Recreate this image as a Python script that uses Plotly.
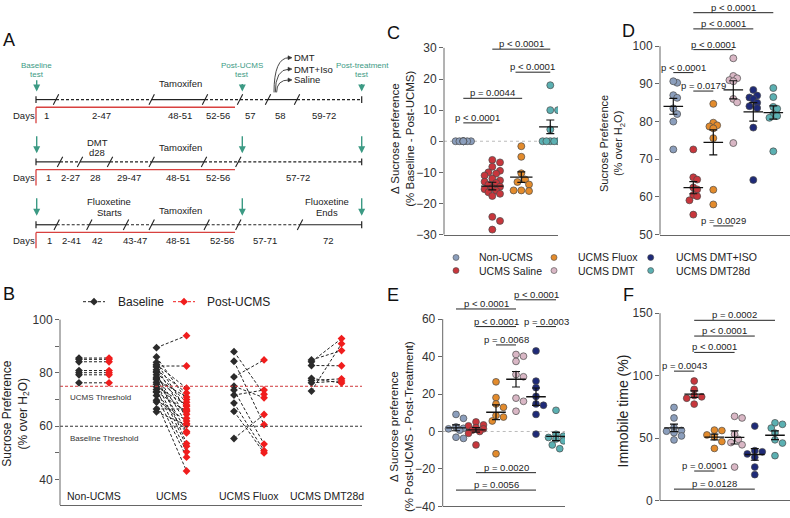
import numpy as np
import plotly.graph_objects as go

W, H = 790, 518
FONT = "Liberation Sans, Arial, sans-serif"
NARROW = "Liberation Sans, Arial, sans-serif"

# ---------------- data ----------------
group_names = ["Non-UCMS", "UCMS Saline", "UCMS Fluox", "UCMS DMT", "UCMS DMT+ISO", "UCMS DMT28d"]
group_colors = ["#8B9EBC", "#C8363C", "#E38B2C", "#D9B7C5", "#1E2A78", "#5BB0B2"]

b_categories = ["Non-UCMS", "UCMS", "UCMS Fluox", "UCMS DMT28d"]
b_baseline = [
    [85.6, 85.1, 84.2, 80.9, 80.1, 79.3, 76.3],
    [89.5, 86.0, 84.0, 83.2, 82.6, 82.2, 81.2, 80.5, 80.2, 79.3, 78.4, 77.8,
     77.5, 76.5, 75.8, 74.8, 73.8, 73.0, 72.8, 71.5, 69.8, 69.1, 66.5, 65.4],
    [88.0, 84.4, 78.5, 75.0, 73.6, 71.7, 68.7, 65.6, 55.4],
    [84.9, 84.2, 82.8, 78.0, 77.2, 76.3, 73.2],
]
b_post = [
    [85.6, 85.1, 84.2, 80.9, 80.1, 79.3, 76.3],
    [94.0, 70.0, 66.0, 74.3, 82.6, 63.0, 72.5, 53.5, 69.0, 61.0, 67.5, 58.0,
     71.0, 52.5, 64.5, 68.0, 50.4, 65.5, 57.5, 48.4, 62.0, 43.2, 66.5, 60.5],
    [72.0, 60.6, 84.9, 70.7, 53.3, 73.6, 50.8, 50.0, 64.4],
    [88.4, 92.9, 82.7, 76.2, 77.8, 77.0, 91.0],
]
b_thresholds = [75, 60]
b_threshold_colors = ["#D0393B", "#333333"]
b_threshold_labels = ["UCMS Threshold", "Baseline Threshold"]

c_groups = [0, 1, 2, 5]
c_values = [
    [0, 0, 0, 0, 0, 0, 0, 0],
    [-6.0, -6.8, -8.2, -9.5, -10.0, -10.4, -11.0, -12.0, -12.6, -13.0, -13.4,
     -14.0, -14.6, -15.0, -15.4, -15.9, -16.4, -16.9, -17.6, -24.3, -25.6, -28.4],
    [-1.6, -5.0, -10.3, -12.3, -13.1, -13.9, -15.8, -15.8, -16.0],
    [18.0, 10.0, 10.0, 3.8, 0, 0, 0, 0, 0],
]
c_brackets = [(0, 1, 5.9, "p < 0.0001"), (0, 2.03, 13.8, "p = 0.0044"),
              (1, 3, 29.6, "p < 0.0001"), (1.8, 3, 22.2, "p < 0.0001")]

d_values = [
    [90.3, 90.7, 87.0, 86.3, 83.5, 82.0, 80.0, 72.6],
    [72.6, 65.2, 64.6, 62.5, 62.0, 60.5, 60.2, 59.1, 55.3],
    [84.7, 79.7, 79.0, 78.7, 78.2, 75.6, 61.9, 58.0],
    [96.8, 92.1, 91.5, 91.0, 90.7, 86.0, 85.1, 74.3],
    [88.4, 86.9, 86.4, 86.0, 85.0, 84.1, 83.6, 78.4, 64.5],
    [88.9, 86.5, 83.9, 83.4, 81.9, 81.5, 81.0, 72.1],
]
d_brackets = [(0, 1, 93.0, "p < 0.0001"), (1, 2, 88.1, "p = 0.0179"),
              (1, 3, 99.1, "p < 0.0001"), (1, 4, 104.6, "p < 0.0001"),
              (1, 5, 108.9, "p < 0.0001"), (2, 3, 52.3, "p = 0.0029")]

e_values = [
    [9.1, 7.0, 2.4, 1.7, 1.4, 0.7, -3.1, -3.7],
    [5.1, 3.5, 3.0, 2.1, 1.4, 0.7, 0.0, -1.0, -7.2],
    [26.5, 18.1, 14.7, 12.9, 8.5, 7.7, 5.6, -11.9],
    [41.1, 40.2, 37.4, 30.4, 29.2, 17.8, 16.1, 10.8],
    [43.0, 26.9, 23.4, 18.7, 14.7, 14.0, 9.1, -1.4],
    [11.3, -1.5, -2.5, -3.2, -4.0, -5.0, -7.2, -9.2],
]
e_brackets = [(0, 3, 65.4, "p < 0.0001"), (1, 3, 56.0, "p < 0.0001"),
              (2, 3, 46.2, "p = 0.0068"), (3, 5, 70.3, "p < 0.0001"),
              (4, 5, 56.0, "p = 0.0003"), (1, 4, -22.0, "p = 0.0020"),
              (0, 4, -31.3, "p = 0.0056")]

f_values = [
    [74.5, 66.1, 58.3, 56.1, 55.5, 54.3, 51.7, 48.5],
    [95.7, 89.0, 84.0, 83.0, 81.9, 77.2],
    [56.4, 56.0, 52.5, 51.0, 47.2, 41.7],
    [67.4, 66.1, 53.0, 49.0, 46.4, 44.6, 26.8],
    [59.6, 39.9, 39.0, 37.3, 34.6, 26.8, 20.7],
    [62.2, 61.0, 58.0, 54.0, 48.6, 46.0, 35.9],
]
f_brackets = [(0, 1, 103.6, "p = 0.0043"), (1, 3, 118.6, "p < 0.0001"),
              (1, 4, 131.7, "p < 0.0001"), (1, 5, 144.3, "p = 0.0002"),
              (1, 2, 23.6, "p = 0.0001"), (0, 4, 9.1, "p = 0.0128")]

# timeline (panel A) content
tl_days = [
    [("1", 46.7), ("2-47", 101.7), ("48-51", 180), ("52-56", 218.3), ("57", 250), ("58", 280), ("59-72", 324)],
    [("1", 48.3), ("2-27", 70), ("28", 95), ("29-47", 129.3), ("48-51", 178.3), ("52-56", 218.3), ("57-72", 298.3)],
    [("1", 49.3), ("2-41", 71.7), ("42", 97.3), ("43-47", 135), ("48-51", 178.3), ("52-56", 221.7), ("57-71", 265), ("72", 328)],
]
tl_breaks = [
    [36, 56, 151.7, 205, 240, 268, 297, 361.7],
    [36, 60, 80, 110, 151.7, 204, 238.3, 361.7],
    [36, 56.7, 89.3, 126, 151.7, 206.7, 238.3, 300, 361.7],
]
tl_solid = [
    [True, False, True, False, False, True, False],
    [True, False, True, False, True, False, False],
    [True, False, True, False, True, False, False, True],
]
tl_rows_y = [99.3, 162.7, 226.7]
tl_treatments = ["DMT", "DMT+Iso", "Saline"]

# ---------------- panel geometry (pixels) ----------------
P = {
    "B": dict(ax="", xd=(60, 362), yd=(318, 512), xr=(-0.439, 3.458), yr=(30.4, 101.95)),
    "C": dict(ax="2", xd=(444, 558), yd=(40, 236.7), xr=(-0.666, 3.266), yr=(-30, 32.12)),
    "D": dict(ax="3", xd=(660, 790), yd=(0, 236.7), xr=(-0.665, 5.835), yr=(50, 111.74)),
    "E": dict(ax="4", xd=(442.7, 565), yd=(290, 513.3), xr=(-0.665, 5.45), yr=(-40, 77.16)),
    "F": dict(ax="5", xd=(660, 790), yd=(300, 507.3), xr=(-0.693, 5.743), yr=(0, 163.14)),
}


def sx(p):
    return (p["xd"][1] - p["xd"][0]) / (p["xr"][1] - p["xr"][0])


def sy(p):
    return (p["yd"][1] - p["yd"][0]) / (p["yr"][1] - p["yr"][0])


def py(p, v):
    return p["yd"][1] - (v - p["yr"][0]) * sy(p)


def swarm(vals, scx, scy, d, maxw):
    vals = np.asarray(vals, float)
    order = np.argsort(-vals, kind="stable")
    step = d * 0.55
    cands = [0.0]
    k = 1
    while k * step <= maxw + 1e-9:
        cands += [k * step, -k * step]
        k += 1
    placed = []
    off = np.zeros(len(vals))
    for i in order:
        yp = vals[i] * scy
        chosen, best, bestd = None, 0.0, -1
        for c in cands:
            md = min((np.hypot(c - a, yp - b) for a, b in placed), default=1e9)
            if md >= 0.92 * d:
                chosen = c
                break
            if md > bestd:
                bestd, best = md, c
        if chosen is None:
            chosen = best
        off[i] = chosen / scx
        placed.append((chosen, yp))
    return off


fig = go.Figure()
shapes = []
annotations = []


def seg(x0, y0, x1, y1, color="#222", width=1.2, dash="solid", xref="x6", yref="y6"):
    shapes.append(dict(type="line", xref=xref, yref=yref, x0=x0, y0=y0, x1=x1, y1=y1,
                       line=dict(color=color, width=width, dash=dash), layer="above"))


def ann(x, y, text, size=10, color="#222", family=FONT, xanchor="center", yanchor="middle",
        xref="x6", yref="y6", angle=0, yshift=0):
    annotations.append(dict(x=x, y=y, xref=xref, yref=yref, text=text, showarrow=False,
                            font=dict(size=size, color=color, family=family),
                            xanchor=xanchor, yanchor=yanchor, textangle=angle, yshift=yshift))


def arrow(x, ytop, ytip, color="#3C9A84"):
    annotations.append(dict(x=x, y=ytip, xref="x6", yref="y6", ax=x, ay=ytop, axref="x6", ayref="y6",
                            text="", showarrow=True, arrowhead=2, arrowsize=1, arrowwidth=1.4,
                            arrowcolor=color))


# ---------------- panel A: timeline ----------------
GREEN = "#3C9A84"
RED = "#D8413F"
for r, yrow in enumerate(tl_rows_y):
    br = tl_breaks[r]
    for j in range(len(br) - 1):
        seg(br[j], yrow, br[j + 1], yrow, dash="solid" if tl_solid[r][j] else "3px,2px")
    for xb in br[1:-1]:
        seg(xb - 2.7, yrow + 5.3, xb + 2.7, yrow - 5.3, width=1.1)
    seg(br[0], yrow - 3.5, br[0], yrow + 3.5)
    seg(br[-1], yrow - 3.5, br[-1], yrow + 3.5)
    # red L
    seg(36, yrow + 7.8, 235, yrow + 7.8, color=RED, width=1.3)
    seg(36, yrow + 7.8, 36, yrow + 24, color=RED, width=1.3)
    ann(24, yrow + 16, "Days", size=9.5)
    for lab, xl in tl_days[r]:
        ann(xl, yrow + 16, lab, size=9.5)

# green test labels and arrows
ann(36.7, 65, "Baseline", size=8, color=GREEN)
ann(36.7, 74, "test", size=8, color=GREEN)
ann(242.3, 65, "Post-UCMS", size=8, color=GREEN)
ann(242.3, 74, "test", size=8, color=GREEN)
ann(362, 65, "Post-treatment", size=8, color=GREEN)
ann(362, 74, "test", size=8, color=GREEN)
arrow(36.7, 78, 91)
arrow(242.3, 82, 91)
arrow(361.7, 82, 91)
for yt, yb in [(135, 154), (198.3, 217.5)]:
    arrow(36.7, yt, yb)
    arrow(242.3, yt, yb)
    arrow(361.7, yt, yb)

ann(180, 83.3, "Tamoxifen", size=9.5)
ann(180, 148.3, "Tamoxifen", size=9.5)
ann(180, 211.7, "Tamoxifen", size=9.5)
ann(97.3, 143.3, "DMT", size=9.5)
ann(97.3, 153.3, "d28", size=9.5)
ann(109.3, 203.3, "Fluoxetine", size=9.5)
ann(109.3, 214.3, "Starts", size=9.5)
ann(327, 203.3, "Fluoxetine", size=9.5)
ann(327, 214.3, "Ends", size=9.5)
for k, (yt, lab) in enumerate(zip([56.7, 68.3, 79.3], tl_treatments)):
    x0 = 274 + k * 1.3
    shapes.append(dict(type="path", xref="x6", yref="y6",
                       path=f"M {x0},{92} Q {x0},{yt} {289},{yt}",
                       line=dict(color="#333", width=0.9), layer="above"))
    shapes.append(dict(type="path", xref="x6", yref="y6",
                       path=f"M {288},{yt - 2} L {292},{yt} L {288},{yt + 2} Z",
                       line=dict(color="#333", width=0.5), fillcolor="#333", layer="above"))
    ann(292, yt, lab, size=9.5, xanchor="left")

# panel letters
for lab, (xl, yl) in {"A": (8.5, 38.5), "B": (8.5, 296.7), "C": (393.3, 31.7), "D": (628.3, 29.3),
                      "E": (393.3, 298.3), "F": (628.3, 298)}.items():
    ann(xl, yl, lab, size=18, color="#111")

# ---------------- panel B ----------------
off_b = 0.194
for i in range(len(b_categories)):
    xs, ys = [], []
    for b, p in zip(b_baseline[i], b_post[i]):
        xs += [i - off_b, i + off_b, None]
        ys += [b, p, None]
    fig.add_trace(go.Scatter(x=xs, y=ys, mode="lines", line=dict(color="#222", width=1, dash="3px,2px"),
                             xaxis="x", yaxis="y", showlegend=False, hoverinfo="skip"))
for i in range(len(b_categories)):
    fig.add_trace(go.Scatter(x=[i - off_b] * len(b_baseline[i]), y=b_baseline[i], mode="markers",
                             marker=dict(symbol="diamond", size=6, color="#2B2B2B"),
                             xaxis="x", yaxis="y", showlegend=False))
    fig.add_trace(go.Scatter(x=[i + off_b] * len(b_post[i]), y=b_post[i], mode="markers",
                             marker=dict(symbol="diamond", size=6, color="#F01D1D"),
                             xaxis="x", yaxis="y", showlegend=False))
for t, c in zip(b_thresholds, b_threshold_colors):
    shapes.append(dict(type="line", xref="x domain", yref="y", x0=0, x1=1, y0=t, y1=t,
                       line=dict(color=c, width=1, dash="3px,2px"), layer="above"))
ann(100.3, 402, b_threshold_labels[0], size=8, family=NARROW, color="#333")
ann(103.7, 444, b_threshold_labels[1], size=8, family=NARROW, color="#333")
for i, lab in enumerate(b_categories):
    ann(i, 503, lab, size=10.5, xref="x", yref="y6")
# B legend
fig.add_trace(go.Scatter(x=[83, 105], y=[305, 305], mode="lines",
                         line=dict(color="#222", width=1, dash="3px,2px"),
                         xaxis="x6", yaxis="y6", showlegend=False, hoverinfo="skip"))
fig.add_trace(go.Scatter(x=[173, 195], y=[305, 305], mode="lines",
                         line=dict(color="#F01D1D", width=1, dash="3px,2px"),
                         xaxis="x6", yaxis="y6", showlegend=False, hoverinfo="skip"))
fig.add_trace(go.Scatter(x=[94, 184], y=[305, 305], mode="markers",
                         marker=dict(symbol="diamond", size=6, color=["#2B2B2B", "#F01D1D"]),
                         xaxis="x6", yaxis="y6", showlegend=False, hoverinfo="skip"))
ann(115.5, 305, "Baseline", size=12, xanchor="left")
ann(205, 305, "Post-UCMS", size=12, xanchor="left")
ann(16, 419, "Sucrose Preference<br>(% over H<sub>2</sub>O)", size=12, angle=-90)


# ---------------- scatter panels ----------------
def dot_panel(key, values, color_idx, brackets, msize=7, maxw=8.5, mean_w=14):
    p = P[key]
    a = p["ax"]
    xa, ya = "x" + a, "y" + a
    for i, vals in enumerate(values):
        col = group_colors[color_idx[i]]
        off = swarm(vals, sx(p), sy(p), msize, maxw)
        fig.add_trace(go.Scatter(x=i + off, y=vals, mode="markers",
                                 marker=dict(size=msize, color=col, line=dict(width=0.7, color="#4A4A4A")),
                                 xaxis=xa, yaxis=ya, showlegend=False))
    for i, vals in enumerate(values):
        v = np.asarray(vals, float)
        sem = v.std(ddof=1) / np.sqrt(len(v))
        if sem == 0:
            continue
        fig.add_trace(go.Scatter(x=[i], y=[v.mean()], mode="markers",
                                 marker=dict(symbol="line-ew", size=mean_w, color="#111",
                                             line=dict(width=1.3, color="#111")),
                                 error_y=dict(type="data", array=[sem], width=4, thickness=1.2, color="#111"),
                                 xaxis=xa, yaxis=ya, showlegend=False))
    for x1, x2, yv, lab in brackets:
        shapes.append(dict(type="line", xref=xa, yref=ya, x0=x1, x1=x2, y0=yv, y1=yv,
                           line=dict(color="#222", width=1), layer="above"))
        ann((x1 + x2) / 2, yv, lab, size=9.5, family=NARROW, color="#222", xref=xa, yref=ya,
            yanchor="bottom", yshift=-2)


dot_panel("C", c_values, c_groups, c_brackets, msize=7, maxw=8.5, mean_w=16)
dot_panel("D", d_values, list(range(6)), d_brackets, msize=7, maxw=7.5)
dot_panel("E", e_values, list(range(6)), e_brackets, msize=6.8, maxw=7.5)
dot_panel("F", f_values, list(range(6)), f_brackets, msize=6.8, maxw=7.5)

# zero reference lines
for key in ["C", "E"]:
    a = P[key]["ax"]
    shapes.append(dict(type="line", xref="x" + a + " domain", yref="y" + a, x0=0, x1=1, y0=0, y1=0,
                       line=dict(color="#BBBBBB", width=1, dash="dot"), layer="below"))

# y-axis lines (pixel overlay)
for key, (lo, hi) in {"B": (30.4, 100), "C": (-30, 30), "D": (50, 100), "E": (-40, 60), "F": (0, 150)}.items():
    p = P[key]
    seg(p["xd"][0], py(p, lo), p["xd"][0], py(p, hi), color="#666", width=1)

# axis titles
ann(401.7, 139.5, "Δ Sucrose preference<br>(% Baseline - Post-UCMS)", size=11.5, angle=-90)
ann(612.5, 144, "Sucrose Preference<br>(% over H<sub>2</sub>O)", size=11, angle=-90)
ann(400.8, 431.7, "Δ Sucrose preference<br>(% Post-UCMS - Post-Treatment)", size=11.5, angle=-90)
ann(623, 416.7, "Immobile time (%)", size=14, angle=-90)

# shared legend for C-F
leg_pos = [(456, 260), (456, 273.3), (554, 260), (554, 273.3), (650.7, 260), (650.7, 273.3)]
text_x = [477.3, 477.3, 576, 576, 674, 674]
leg_order = [0, 1, 2, 3, 4, 5]
fig.add_trace(go.Scatter(x=[leg_pos[k][0] for k in leg_order], y=[leg_pos[k][1] for k in leg_order],
                         mode="markers",
                         marker=dict(size=6, color=[group_colors[k] for k in leg_order],
                                     line=dict(width=0.6, color="#4A4A4A")),
                         xaxis="x6", yaxis="y6", showlegend=False, hoverinfo="skip"))
for k in leg_order:
    ann(text_x[k], leg_pos[k][1], group_names[k], size=10.5, xanchor="left")

# ---------------- layout ----------------
layout = dict(width=W, height=H, margin=dict(l=0, r=0, t=0, b=0, pad=0),
              paper_bgcolor="white", plot_bgcolor="rgba(0,0,0,0)", showlegend=False,
              font=dict(family=FONT, color="#222"))

ytick = dict(B=dict(tickvals=[40, 60, 80, 100],
                    minor=dict(tickvals=[50, 70, 90], ticks="outside", ticklen=4, tickcolor="#666", tickwidth=1)),
             C=dict(tickvals=[-30, -20, -10, 0, 10, 20, 30]),
             D=dict(tickvals=[50, 60, 70, 80, 90, 100]),
             E=dict(tickvals=[-40, -20, 0, 20, 40, 60]),
             F=dict(tickvals=[0, 50, 100, 150]))

for key, p in P.items():
    a = p["ax"]
    layout["xaxis" + a] = dict(domain=[p["xd"][0] / W, p["xd"][1] / W], range=list(p["xr"]),
                               anchor="y" + a, showgrid=False, zeroline=False, showline=True,
                               linecolor="#666", linewidth=1, showticklabels=False, ticks="")
    layout["yaxis" + a] = dict(domain=[1 - p["yd"][1] / H, 1 - p["yd"][0] / H], range=list(p["yr"]),
                               anchor="x" + a, showgrid=False, zeroline=False, showline=False,
                               ticks="outside", ticklen=4, tickcolor="#666", tickwidth=1,
                               tickfont=dict(family=FONT, size=12, color="#333"), **ytick[key])

layout["xaxis6"] = dict(domain=[0, 1], range=[0, W], anchor="y6", visible=False, showgrid=False)
layout["yaxis6"] = dict(domain=[0, 1], range=[H, 0], anchor="x6", visible=False, showgrid=False)
layout["shapes"] = shapes
layout["annotations"] = annotations
fig.update_layout(**layout)

fig.write_html("out.html")
